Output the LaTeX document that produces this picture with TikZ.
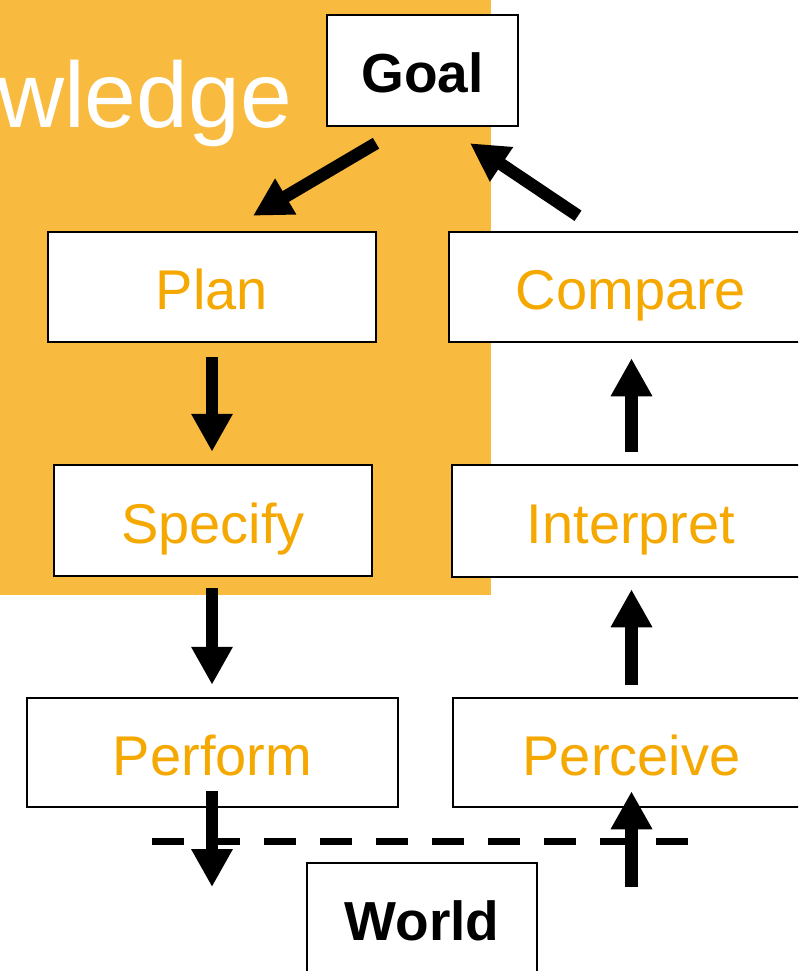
\documentclass[tikz,border=0pt]{standalone}
\usepackage{fontspec}
\setmainfont{Liberation Sans}
\usetikzlibrary{arrows.meta,calc}
\definecolor{bgorange}{HTML}{F9BA40}
\definecolor{txtorange}{HTML}{F5A800}
\tikzset{
  stage/.style={draw=black, line width=2.5pt, fill=white, rectangle, inner sep=0pt,
    text height=45pt, text depth=0pt,
    text=txtorange, font=\fontsize{56}{60}\selectfont},
  endbox/.style={draw=black, line width=2.5pt, fill=white, rectangle, inner sep=0pt,
    text height=45pt, text depth=0pt,
    text=black, font=\fontsize{55}{60}\selectfont\bfseries},
  bigarrow/.style={line width=12.5pt, draw=black, -{Triangle[width=39pt,length=38pt]}},
  boundary/.style={line width=7pt, draw=black, dash pattern=on 32pt off 24pt}
}
\begin{document}
\begin{tikzpicture}[x=1pt,y=-1pt]
\useasboundingbox (0,0) rectangle (798,971);
\clip (0,0) rectangle (798,971);
\fill[bgorange] (0,0) rectangle (491,595);
\node[anchor=base east, inner sep=0pt, text=white, font=\fontsize{93}{96}\selectfont] (know) at (292,128) {wledge};

\node[endbox, minimum width=191pt, minimum height=111pt] (goal) at (422.5,70.5) {Goal};
\node[stage, minimum width=328pt, minimum height=110pt] (plan) at (212,287) {Plan};
\node[stage, minimum width=318pt, minimum height=111pt] (specify) at (213,520.5) {Specify};
\node[stage, minimum width=371pt, minimum height=109pt] (perform) at (212.5,752.5) {Perform};
\node[stage, minimum width=364pt, minimum height=110pt] (compare) at (631,287) {Compare};
\node[stage, minimum width=358pt, minimum height=112pt] (interpret) at (631,521) {Interpret};
\node[stage, minimum width=357pt, minimum height=109pt] (perceive) at (631.5,752.5) {Perceive};
\node[endbox, minimum width=230pt, minimum height=110pt] (world) at (422,918) {World};

\coordinate (dl) at (152,841);
\coordinate (dr) at (688,841);
\draw[boundary] (dl) -- (dr);

\coordinate (wdown) at (212,887);
\coordinate (wup) at (631.5,887);

\draw[bigarrow] ($(goal.south)+(-46.5,16)$) -- ($(plan.north)+(41,-15)$);
\draw[bigarrow] ($(compare.north)+(-53,-15)$) -- ($(goal.south)+(47.5,16)$);
\draw[bigarrow] ($(plan.south)+(0,14)$) -- ($(plan.south |- specify.north)+(0,-12)$);
\draw[bigarrow] ($(plan.south |- specify.south)+(0,11)$) -- ($(plan.south |- perform.north)+(0,-12)$);
\draw[bigarrow] ($(perform.south)+(-0.5,-17)$) -- (wdown);
\draw[bigarrow] (wup) -- ($(perceive.south)+(0,-17)$);
\draw[bigarrow] ($(perceive.north)+(0,-12)$) -- ($(perceive.north |- interpret.south)+(0,11)$);
\draw[bigarrow] ($(perceive.north |- interpret.north)+(0,-12)$) -- ($(perceive.north |- compare.south)+(0,15)$);
\end{tikzpicture}
\end{document}
